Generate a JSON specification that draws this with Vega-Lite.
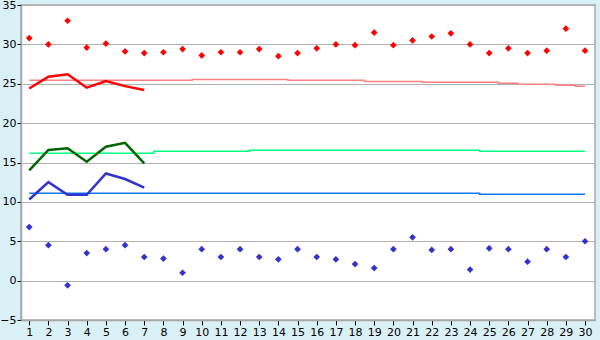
{
  "$schema": "https://vega.github.io/schema/vega-lite/v6.json",
  "width": 574,
  "height": 315,
  "autosize": "none",
  "padding": {"left": 21, "top": 5, "right": 5, "bottom": 20},
  "background": "#D9F0F7",
  "config": {
    "view": {"fill": "white", "stroke": "#a8a8a8", "strokeWidth": 1.5},
    "axis": {"labelFont": "DejaVu Sans", "labelFontSize": 11, "labelColor": "#000000", "tickColor": "#000000", "domainColor": "#a8a8a8", "domainWidth": 1.5, "title": null}
  },
  "datasets": {
    "pts": [
      {"day": 1, "series": "max", "value": 30.8}, {"day": 2, "series": "max", "value": 30.0}, {"day": 3, "series": "max", "value": 33.0},
      {"day": 4, "series": "max", "value": 29.6}, {"day": 5, "series": "max", "value": 30.1}, {"day": 6, "series": "max", "value": 29.1},
      {"day": 7, "series": "max", "value": 28.9}, {"day": 8, "series": "max", "value": 29.0}, {"day": 9, "series": "max", "value": 29.4},
      {"day": 10, "series": "max", "value": 28.6}, {"day": 11, "series": "max", "value": 29.0}, {"day": 12, "series": "max", "value": 29.0},
      {"day": 13, "series": "max", "value": 29.4}, {"day": 14, "series": "max", "value": 28.5}, {"day": 15, "series": "max", "value": 28.9},
      {"day": 16, "series": "max", "value": 29.5}, {"day": 17, "series": "max", "value": 30.0}, {"day": 18, "series": "max", "value": 29.9},
      {"day": 19, "series": "max", "value": 31.5}, {"day": 20, "series": "max", "value": 29.9}, {"day": 21, "series": "max", "value": 30.5},
      {"day": 22, "series": "max", "value": 31.0}, {"day": 23, "series": "max", "value": 31.4}, {"day": 24, "series": "max", "value": 30.0},
      {"day": 25, "series": "max", "value": 28.9}, {"day": 26, "series": "max", "value": 29.5}, {"day": 27, "series": "max", "value": 28.9},
      {"day": 28, "series": "max", "value": 29.2}, {"day": 29, "series": "max", "value": 32.0}, {"day": 30, "series": "max", "value": 29.2},
      {"day": 1, "series": "min", "value": 6.8}, {"day": 2, "series": "min", "value": 4.5}, {"day": 3, "series": "min", "value": -0.6},
      {"day": 4, "series": "min", "value": 3.5}, {"day": 5, "series": "min", "value": 4.0}, {"day": 6, "series": "min", "value": 4.5},
      {"day": 7, "series": "min", "value": 3.0}, {"day": 8, "series": "min", "value": 2.8}, {"day": 9, "series": "min", "value": 1.0},
      {"day": 10, "series": "min", "value": 4.0}, {"day": 11, "series": "min", "value": 3.0}, {"day": 12, "series": "min", "value": 4.0},
      {"day": 13, "series": "min", "value": 3.0}, {"day": 14, "series": "min", "value": 2.7}, {"day": 15, "series": "min", "value": 4.0},
      {"day": 16, "series": "min", "value": 3.0}, {"day": 17, "series": "min", "value": 2.7}, {"day": 18, "series": "min", "value": 2.1},
      {"day": 19, "series": "min", "value": 1.6}, {"day": 20, "series": "min", "value": 4.0}, {"day": 21, "series": "min", "value": 5.5},
      {"day": 22, "series": "min", "value": 3.9}, {"day": 23, "series": "min", "value": 4.0}, {"day": 24, "series": "min", "value": 1.4},
      {"day": 25, "series": "min", "value": 4.1}, {"day": 26, "series": "min", "value": 4.0}, {"day": 27, "series": "min", "value": 2.4},
      {"day": 28, "series": "min", "value": 4.0}, {"day": 29, "series": "min", "value": 3.0}, {"day": 30, "series": "min", "value": 5.0}
    ],
    "thick": [
      {"day": 1, "series": "tmax", "value": 24.4}, {"day": 2, "series": "tmax", "value": 25.9}, {"day": 3, "series": "tmax", "value": 26.2},
      {"day": 4, "series": "tmax", "value": 24.5}, {"day": 5, "series": "tmax", "value": 25.35}, {"day": 6, "series": "tmax", "value": 24.7},
      {"day": 7, "series": "tmax", "value": 24.2},
      {"day": 1, "series": "tmean", "value": 14.0}, {"day": 2, "series": "tmean", "value": 16.6}, {"day": 3, "series": "tmean", "value": 16.8},
      {"day": 4, "series": "tmean", "value": 15.1}, {"day": 5, "series": "tmean", "value": 17.0}, {"day": 6, "series": "tmean", "value": 17.5},
      {"day": 7, "series": "tmean", "value": 14.9},
      {"day": 1, "series": "tmin", "value": 10.3}, {"day": 2, "series": "tmin", "value": 12.5}, {"day": 3, "series": "tmin", "value": 10.9},
      {"day": 4, "series": "tmin", "value": 10.9}, {"day": 5, "series": "tmin", "value": 13.6}, {"day": 6, "series": "tmin", "value": 12.9},
      {"day": 7, "series": "tmin", "value": 11.8}
    ],
    "thin": [
      {"day": 1, "series": "nmax", "value": 25.45}, {"day": 2, "series": "nmax", "value": 25.45}, {"day": 3, "series": "nmax", "value": 25.45},
      {"day": 4, "series": "nmax", "value": 25.45}, {"day": 5, "series": "nmax", "value": 25.45}, {"day": 6, "series": "nmax", "value": 25.45},
      {"day": 7, "series": "nmax", "value": 25.45}, {"day": 8, "series": "nmax", "value": 25.45}, {"day": 9, "series": "nmax", "value": 25.45},
      {"day": 10, "series": "nmax", "value": 25.55}, {"day": 11, "series": "nmax", "value": 25.55}, {"day": 12, "series": "nmax", "value": 25.55},
      {"day": 13, "series": "nmax", "value": 25.55}, {"day": 14, "series": "nmax", "value": 25.55}, {"day": 15, "series": "nmax", "value": 25.45},
      {"day": 16, "series": "nmax", "value": 25.45}, {"day": 17, "series": "nmax", "value": 25.45}, {"day": 18, "series": "nmax", "value": 25.45},
      {"day": 19, "series": "nmax", "value": 25.3}, {"day": 20, "series": "nmax", "value": 25.3}, {"day": 21, "series": "nmax", "value": 25.3},
      {"day": 22, "series": "nmax", "value": 25.18}, {"day": 23, "series": "nmax", "value": 25.18}, {"day": 24, "series": "nmax", "value": 25.18},
      {"day": 25, "series": "nmax", "value": 25.18}, {"day": 26, "series": "nmax", "value": 25.05}, {"day": 27, "series": "nmax", "value": 24.93},
      {"day": 28, "series": "nmax", "value": 24.93}, {"day": 29, "series": "nmax", "value": 24.8}, {"day": 30, "series": "nmax", "value": 24.67},
      {"day": 1, "series": "nmean", "value": 16.17}, {"day": 2, "series": "nmean", "value": 16.17}, {"day": 3, "series": "nmean", "value": 16.17},
      {"day": 4, "series": "nmean", "value": 16.17}, {"day": 5, "series": "nmean", "value": 16.17}, {"day": 6, "series": "nmean", "value": 16.17},
      {"day": 7, "series": "nmean", "value": 16.17}, {"day": 8, "series": "nmean", "value": 16.42}, {"day": 9, "series": "nmean", "value": 16.42},
      {"day": 10, "series": "nmean", "value": 16.42}, {"day": 11, "series": "nmean", "value": 16.42}, {"day": 12, "series": "nmean", "value": 16.42},
      {"day": 13, "series": "nmean", "value": 16.55}, {"day": 14, "series": "nmean", "value": 16.55}, {"day": 15, "series": "nmean", "value": 16.55},
      {"day": 16, "series": "nmean", "value": 16.55}, {"day": 17, "series": "nmean", "value": 16.55}, {"day": 18, "series": "nmean", "value": 16.55},
      {"day": 19, "series": "nmean", "value": 16.55}, {"day": 20, "series": "nmean", "value": 16.55}, {"day": 21, "series": "nmean", "value": 16.55},
      {"day": 22, "series": "nmean", "value": 16.55}, {"day": 23, "series": "nmean", "value": 16.55}, {"day": 24, "series": "nmean", "value": 16.55},
      {"day": 25, "series": "nmean", "value": 16.42}, {"day": 26, "series": "nmean", "value": 16.42}, {"day": 27, "series": "nmean", "value": 16.42},
      {"day": 28, "series": "nmean", "value": 16.42}, {"day": 29, "series": "nmean", "value": 16.42}, {"day": 30, "series": "nmean", "value": 16.42},
      {"day": 1, "series": "nmin", "value": 11.09}, {"day": 2, "series": "nmin", "value": 11.09}, {"day": 3, "series": "nmin", "value": 11.09},
      {"day": 4, "series": "nmin", "value": 11.09}, {"day": 5, "series": "nmin", "value": 11.09}, {"day": 6, "series": "nmin", "value": 11.09},
      {"day": 7, "series": "nmin", "value": 11.09}, {"day": 8, "series": "nmin", "value": 11.09}, {"day": 9, "series": "nmin", "value": 11.09},
      {"day": 10, "series": "nmin", "value": 11.09}, {"day": 11, "series": "nmin", "value": 11.09}, {"day": 12, "series": "nmin", "value": 11.09},
      {"day": 13, "series": "nmin", "value": 11.09}, {"day": 14, "series": "nmin", "value": 11.09}, {"day": 15, "series": "nmin", "value": 11.09},
      {"day": 16, "series": "nmin", "value": 11.09}, {"day": 17, "series": "nmin", "value": 11.09}, {"day": 18, "series": "nmin", "value": 11.09},
      {"day": 19, "series": "nmin", "value": 11.09}, {"day": 20, "series": "nmin", "value": 11.09}, {"day": 21, "series": "nmin", "value": 11.09},
      {"day": 22, "series": "nmin", "value": 11.09}, {"day": 23, "series": "nmin", "value": 11.09}, {"day": 24, "series": "nmin", "value": 11.09},
      {"day": 25, "series": "nmin", "value": 10.96}, {"day": 26, "series": "nmin", "value": 10.96}, {"day": 27, "series": "nmin", "value": 10.96},
      {"day": 28, "series": "nmin", "value": 10.96}, {"day": 29, "series": "nmin", "value": 10.96}, {"day": 30, "series": "nmin", "value": 10.96}
    ]
  },
  "encoding": {
    "x": {"field": "day", "type": "quantitative",
      "scale": {"domain": [0.57, 30.52], "nice": false, "zero": false},
      "axis": {"values": [1,2,3,4,5,6,7,8,9,10,11,12,13,14,15,16,17,18,19,20,21,22,23,24,25,26,27,28,29,30], "format": "d", "grid": false, "tickSize": 5, "labelPadding": 1, "labelFlush": false}},
    "y": {"field": "value", "type": "quantitative",
      "scale": {"domain": [-5, 35], "nice": false, "zero": false},
      "axis": {"values": [-5, 0, 5, 10, 15, 20, 25, 30, 35], "grid": true, "gridColor": "#b0b0b0", "gridWidth": 1.2, "tickSize": 4, "labelPadding": 1, "labelFlush": false}}
  },
  "layer": [
    {
      "data": {"name": "thin"},
      "mark": {"type": "line", "interpolate": "step", "strokeWidth": 1.5},
      "encoding": {
        "detail": {"field": "series"},
        "color": {"field": "series", "type": "nominal", "legend": null,
          "scale": {"domain": ["nmax", "nmean", "nmin"], "range": ["#FF8080", "#00FF80", "#0A78E8"]}}
      }
    },
    {
      "data": {"name": "thick"},
      "mark": {"type": "line", "strokeWidth": 2.5},
      "encoding": {
        "stroke": {"field": "series", "type": "nominal", "legend": null,
          "scale": {"domain": ["tmax", "tmean", "tmin"], "range": ["#FF0000", "#006600", "#3333CC"]}}
      }
    },
    {
      "data": {"name": "pts"},
      "mark": {"type": "point", "shape": "diamond", "filled": true, "size": 45, "opacity": 1},
      "encoding": {
        "fill": {"field": "series", "type": "nominal", "legend": null,
          "scale": {"domain": ["max", "min"], "range": ["#FF0000", "#3333CC"]}}
      }
    }
  ]
}
